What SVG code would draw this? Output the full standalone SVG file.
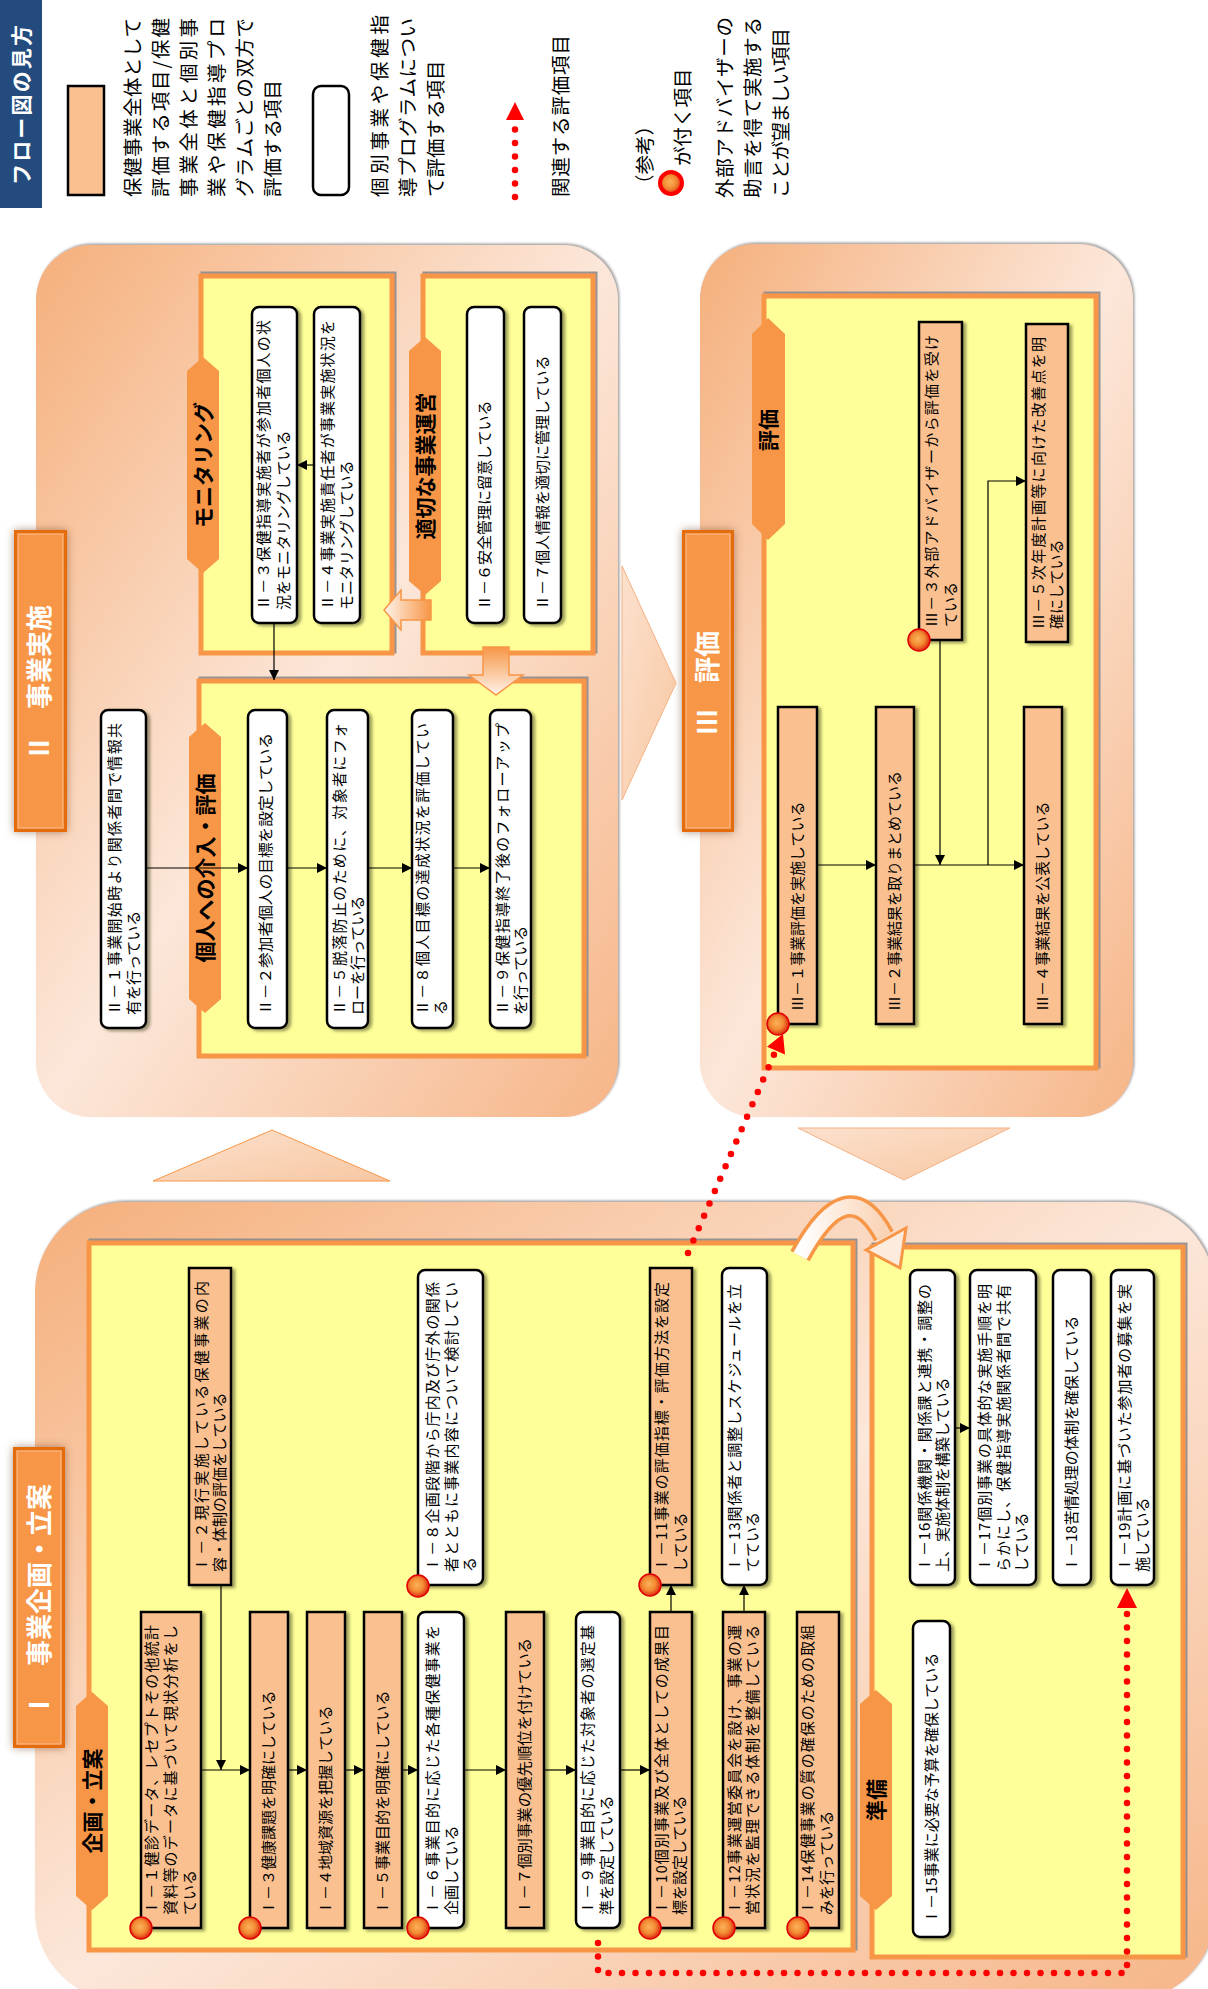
<svg xmlns="http://www.w3.org/2000/svg" width="1208" height="1989" viewBox="0 0 1208 1989">
<defs>
<style>
.nt{font-family:"Noto Sans CJK JP","Noto Sans CJK SC",sans-serif;font-size:15px;fill:#000}
.lg{font-family:"Noto Sans CJK JP","Noto Sans CJK SC",sans-serif;font-size:19.5px;fill:#000}
.tab{font-family:"Noto Sans CJK JP","Noto Sans CJK SC",sans-serif;font-size:21px;font-weight:bold;fill:#000;text-anchor:middle}
.ttl{font-family:"Noto Sans CJK JP","Noto Sans CJK SC",sans-serif;font-size:26px;font-weight:bold;fill:#fff}
.on{fill:#FAC090;stroke:#000;stroke-width:2.5;filter:url(#ns)}
.wn{fill:#fff;stroke:#000;stroke-width:2.5;filter:url(#ns)}
.sub{fill:#FFFF99;stroke:#F79646;stroke-width:5;filter:url(#ps)}
.tb{fill:#F79646}
.cn{stroke:#000;stroke-width:1.2;fill:none;marker-end:url(#ah)}
.ln{stroke:#000;stroke-width:1.2;fill:none}
.rd{stroke:#FF0000;stroke-width:6.5;stroke-linecap:round;stroke-dasharray:0 13.5;fill:none}
.dot{fill:url(#dg);stroke:#E00000;stroke-width:1.5}
</style>
<linearGradient id="pg" x1="0" y1="0" x2="1" y2="1">
<stop offset="0" stop-color="#F5AF7B"/><stop offset="0.5" stop-color="#FCE7DA"/><stop offset="1" stop-color="#F6B587"/>
</linearGradient>
<linearGradient id="bg" x1="0" y1="0" x2="1" y2="1">
<stop offset="0" stop-color="#FCE1CE"/><stop offset="1" stop-color="#F8C7A2"/>
</linearGradient>
<linearGradient id="lag" x1="0" y1="0" x2="1" y2="0">
<stop offset="0" stop-color="#FEF3EB"/><stop offset="1" stop-color="#F79646"/>
</linearGradient>
<linearGradient id="dag" x1="0" y1="0" x2="0" y2="1">
<stop offset="0" stop-color="#F79646"/><stop offset="1" stop-color="#FEF3EB"/>
</linearGradient>
<linearGradient id="cg" x1="0" y1="0" x2="1" y2="0">
<stop offset="0" stop-color="#FFFFFF"/><stop offset="1" stop-color="#FAD3B5"/>
</linearGradient>
<radialGradient id="dg" cx="0.45" cy="0.45" r="0.55">
<stop offset="0" stop-color="#FBB35A"/><stop offset="0.55" stop-color="#F28A32"/><stop offset="1" stop-color="#E02A10"/>
</radialGradient>
<marker id="ah" viewBox="0 0 10 10" refX="10" refY="5" markerWidth="10" markerHeight="10" markerUnits="userSpaceOnUse" orient="auto">
<path d="M0,0 L10,5 L0,10 z" fill="#000"/>
</marker>
<filter id="ns" x="-30%" y="-10%" width="160%" height="120%">
<feDropShadow dx="3" dy="2" stdDeviation="1.6" flood-color="#4d4d26" flood-opacity="0.55"/>
</filter>
<filter id="ps" x="-5%" y="-5%" width="110%" height="110%">
<feDropShadow dx="2" dy="-2" stdDeviation="0.6" flood-color="#8a8a8a" flood-opacity="0.9"/>
</filter>
<filter id="os" x="-5%" y="-5%" width="110%" height="110%">
<feDropShadow dx="1.5" dy="-1.5" stdDeviation="0.8" flood-color="#8a8a8a" flood-opacity="0.8"/>
</filter>
<filter id="ts" x="-40%" y="-10%" width="180%" height="120%">
<feDropShadow dx="0" dy="0" stdDeviation="4" flood-color="#7a5030" flood-opacity="0.6"/>
</filter>
</defs>

<!-- Legend -->
<g id="legend">
<rect x="0" y="0" width="42" height="208" fill="#244B7E"/>
<text class="ttl" style="font-size:21px" transform="translate(28.5,185) rotate(-90)" textLength="160" lengthAdjust="spacing">フロー図の見方</text>
<rect x="68" y="86" width="36" height="109" fill="#FAC090" stroke="#000" stroke-width="2.5"/>
<text class="lg" transform="translate(140,197) rotate(-90)">
<tspan x="0" y="0" textLength="179" lengthAdjust="spacing">保健事業全体として</tspan>
<tspan x="0" y="28" textLength="179" lengthAdjust="spacing">評価する項目/保健</tspan>
<tspan x="0" y="56" textLength="179" lengthAdjust="spacing">事業全体と個別事</tspan>
<tspan x="0" y="84" textLength="179" lengthAdjust="spacing">業や保健指導プロ</tspan>
<tspan x="0" y="112" textLength="179" lengthAdjust="spacing">グラムごとの双方で</tspan>
<tspan x="0" y="140">評価する項目</tspan>
</text>
<rect x="313" y="86" width="36" height="109" rx="8" fill="#fff" stroke="#000" stroke-width="2.5"/>
<text class="lg" transform="translate(387,197) rotate(-90)">
<tspan x="0" y="0" textLength="182" lengthAdjust="spacing">個別事業や保健指</tspan>
<tspan x="0" y="28" textLength="179" lengthAdjust="spacing">導プログラムについ</tspan>
<tspan x="0" y="56">て評価する項目</tspan>
</text>
<line class="rd" x1="515" y1="197" x2="515" y2="124"/>
<polygon points="506,120 524,120 515,102" fill="#FF0000"/>
<text class="lg" transform="translate(568,197) rotate(-90)" textLength="162" lengthAdjust="spacing">関連する評価項目</text>
<text class="lg" transform="translate(652,194) rotate(-90)">（参考）</text>
<circle cx="671" cy="183" r="11" fill="url(#dg)" stroke="#FF0000" stroke-width="4"/>
<text class="lg" transform="translate(690,166) rotate(-90)">が付く項目</text>
<text class="lg" transform="translate(732,198) rotate(-90)">
<tspan x="0" y="0" textLength="181" lengthAdjust="spacing">外部アドバイザーの</tspan>
<tspan x="0" y="28" textLength="181" lengthAdjust="spacing">助言を得て実施する</tspan>
<tspan x="0" y="56" textLength="170" lengthAdjust="spacing">ことが望ましい項目</tspan>
</text>
</g>

<!-- Section panels -->
<g id="panel-II">
<rect x="36" y="245" width="582" height="872" rx="55" fill="url(#pg)" filter="url(#os)"/>
<rect class="sub" x="201" y="276" width="191" height="377"/>
<rect class="sub" x="423" y="276" width="170" height="377"/>
<rect class="sub" x="199" y="681" width="385" height="375"/>
<polygon class="tb" points="187,371 203,357 219,371 219,559 203,573 187,559"/>
<text class="tab" transform="translate(210.6,465) rotate(-90)">モニタリング</text>
<polygon class="tb" points="409,351 425,337 441,351 441,581 425,595 409,581"/>
<text class="tab" transform="translate(432.6,466) rotate(-90)">適切な事業運営</text>
<polygon class="tb" points="189,737 205,723 221,737 221,999 205,1013 189,999"/>
<text class="tab" transform="translate(212.6,868) rotate(-90)">個人への介入・評価</text>
<g filter="url(#ts)">
<rect x="14" y="530" width="53" height="302" fill="#E46C0A"/>
<rect x="18" y="534" width="45" height="294" fill="#F79646" stroke="#FAB07A" stroke-width="1.5"/>
</g>
<text class="ttl" transform="translate(49.4,761) rotate(-90)">Ⅱ　事業実施</text>
<path d="M431,600 L401,600 L401,590 L384,610 L401,630 L401,620 L431,620 Z" fill="url(#lag)" stroke="#F79646" stroke-width="1.5"/>
<path d="M483,647 L483,675 L469,675 L496,695 L523,675 L509,675 L509,647 Z" fill="url(#dag)" stroke="#F79646" stroke-width="1.5"/>
</g>

<g id="panel-III">
<rect x="700" y="244" width="433" height="873" rx="55" fill="url(#pg)" filter="url(#os)"/>
<rect class="sub" x="764" y="296" width="332" height="772"/>
<polygon class="tb" points="752,334 768,318 785,334 785,524 768,540 752,524"/>
<text class="tab" transform="translate(775.6,430) rotate(-90)">評価</text>
<g filter="url(#ts)">
<rect x="682" y="530" width="52" height="302" fill="#E46C0A"/>
<rect x="686" y="534" width="44" height="294" fill="#F79646" stroke="#FAB07A" stroke-width="1.5"/>
</g>
<text class="ttl" transform="translate(717,735) rotate(-90)">Ⅲ　評価</text>
</g>

<g id="panel-I">
<rect x="35" y="1202" width="1180" height="800" rx="90" fill="url(#pg)" filter="url(#os)"/>
<rect class="sub" x="89" y="1243" width="764" height="707"/>
<rect class="sub" x="872" y="1247" width="311" height="710"/>
<polygon class="tb" points="76,1706 92,1692 108,1706 108,1896 92,1910 76,1896"/>
<text class="tab" transform="translate(99.6,1801) rotate(-90)">企画・立案</text>
<polygon class="tb" points="860,1704 876,1690 892,1704 892,1896 876,1910 860,1896"/>
<text class="tab" transform="translate(883.6,1800) rotate(-90)">準備</text>
<g filter="url(#ts)">
<rect x="13" y="1447" width="52" height="301" fill="#E46C0A"/>
<rect x="17" y="1451" width="44" height="293" fill="#F79646" stroke="#FAB07A" stroke-width="1.5"/>
</g>
<text class="ttl" transform="translate(48.5,1718) rotate(-90)">Ⅰ　事業企画・立案</text>
<path d="M800,1256 Q848,1168 884,1236" stroke="#F79646" stroke-width="22" fill="none"/>
<path d="M800,1256 Q848,1168 884,1236" stroke="url(#cg)" stroke-width="15" fill="none"/>
<polygon points="866,1250 906,1228 900,1268" fill="#FDEBDD" stroke="#F79646" stroke-width="3" stroke-linejoin="miter"/>
</g>

<g id="section-arrows">
<polygon points="622,566 676,683 622,800" fill="url(#bg)" stroke="#F4B183" stroke-width="1"/>
<polygon points="798,1128 1010,1128 904,1180" fill="url(#bg)" stroke="#F4B183" stroke-width="1"/>
<polygon points="153,1181 390,1181 272,1130" fill="url(#bg)" stroke="#F79646" stroke-width="1"/>
</g>

<!-- Nodes: Section II -->
<g id="n-II-3"><rect class="wn" x="252" y="307" width="45" height="316" rx="7"/>
<text class="nt" transform="translate(269.4,610) rotate(-90)"><tspan x="0" y="0" textLength="290" lengthAdjust="spacing">Ⅱ－３保健指導実施者が参加者個人の状</tspan><tspan x="0" y="20">況をモニタリングしている</tspan></text></g>
<g id="n-II-4"><rect class="wn" x="314" y="307" width="46" height="316" rx="7"/>
<text class="nt" transform="translate(333.4,610) rotate(-90)"><tspan x="0" y="0" textLength="290" lengthAdjust="spacing">Ⅱ－４事業実施責任者が事業実施状況を</tspan><tspan x="0" y="19">モニタリングしている</tspan></text></g>
<g id="n-II-6"><rect class="wn" x="467" y="307" width="37" height="316" rx="7"/>
<text class="nt" transform="translate(490.4,610) rotate(-90)">Ⅱ－６安全管理に留意している</text></g>
<g id="n-II-7"><rect class="wn" x="524" y="307" width="37" height="316" rx="7"/>
<text class="nt" transform="translate(548.4,610) rotate(-90)">Ⅱ－７個人情報を適切に管理している</text></g>
<g id="n-II-1"><rect class="wn" x="101" y="710" width="45" height="318" rx="7"/>
<text class="nt" transform="translate(120.4,1015) rotate(-90)"><tspan x="0" y="0" textLength="292" lengthAdjust="spacing">Ⅱ－１事業開始時より関係者間で情報共</tspan><tspan x="0" y="19">有を行っている</tspan></text></g>
<g id="n-II-2"><rect class="wn" x="248" y="710" width="39" height="318" rx="7"/>
<text class="nt" transform="translate(271.4,1015) rotate(-90)" textLength="282" lengthAdjust="spacingAndGlyphs">Ⅱ－２参加者個人の目標を設定している</text></g>
<g id="n-II-5"><rect class="wn" x="327" y="710" width="41" height="318" rx="7"/>
<text class="nt" transform="translate(345.4,1015) rotate(-90)"><tspan x="0" y="0" textLength="292" lengthAdjust="spacing">Ⅱ－５脱落防止のために、対象者にフォ</tspan><tspan x="0" y="18">ローを行っている</tspan></text></g>
<g id="n-II-8"><rect class="wn" x="412" y="710" width="41" height="318" rx="7"/>
<text class="nt" transform="translate(428.4,1015) rotate(-90)"><tspan x="0" y="0" textLength="292" lengthAdjust="spacing">Ⅱ－８個人目標の達成状況を評価してい</tspan><tspan x="0" y="18">る</tspan></text></g>
<g id="n-II-9"><rect class="wn" x="490" y="710" width="41" height="318" rx="7"/>
<text class="nt" transform="translate(508.4,1015) rotate(-90)"><tspan x="0" y="0" textLength="292" lengthAdjust="spacing">Ⅱ－９保健指導終了後のフォローアップ</tspan><tspan x="0" y="18">を行っている</tspan></text></g>

<!-- Nodes: Section III -->
<g id="n-III-3"><rect class="on" x="919" y="322" width="43" height="318"/>
<text class="nt" transform="translate(937.4,627) rotate(-90)"><tspan x="0" y="0" textLength="292" lengthAdjust="spacing">Ⅲ－３外部アドバイザーから評価を受け</tspan><tspan x="0" y="19">ている</tspan></text></g>
<g id="n-III-5"><rect class="on" x="1026" y="324" width="42" height="318"/>
<text class="nt" transform="translate(1044.4,629) rotate(-90)"><tspan x="0" y="0" textLength="292" lengthAdjust="spacing">Ⅲ－５次年度計画等に向けた改善点を明</tspan><tspan x="0" y="18">確にしている</tspan></text></g>
<g id="n-III-1"><rect class="on" x="778" y="707" width="39" height="317"/>
<text class="nt" transform="translate(803.4,1011) rotate(-90)">Ⅲ－１事業評価を実施している</text></g>
<g id="n-III-2"><rect class="on" x="876" y="707" width="38" height="317"/>
<text class="nt" transform="translate(900.4,1011) rotate(-90)">Ⅲ－２事業結果を取りまとめている</text></g>
<g id="n-III-4"><rect class="on" x="1024" y="707" width="38" height="317"/>
<text class="nt" transform="translate(1048.4,1011) rotate(-90)">Ⅲ－４事業結果を公表している</text></g>

<!-- Nodes: Section I -->
<g id="n-I-1"><rect class="on" x="141" y="1612" width="60" height="316"/>
<text class="nt" transform="translate(157.4,1915) rotate(-90)"><tspan x="0" y="0" textLength="290" lengthAdjust="spacing">Ⅰ－１健診データ、レセプトその他統計</tspan><tspan x="0" y="19" textLength="290" lengthAdjust="spacing">資料等のデータに基づいて現状分析をし</tspan><tspan x="0" y="38">ている</tspan></text></g>
<g id="n-I-3"><rect class="on" x="250" y="1612" width="38" height="316"/>
<text class="nt" transform="translate(274.4,1915) rotate(-90)">Ⅰ－３健康課題を明確にしている</text></g>
<g id="n-I-4"><rect class="on" x="307" y="1612" width="38" height="316"/>
<text class="nt" transform="translate(331.4,1915) rotate(-90)">Ⅰ－４地域資源を把握している</text></g>
<g id="n-I-5"><rect class="on" x="364" y="1612" width="38" height="316"/>
<text class="nt" transform="translate(388.4,1915) rotate(-90)">Ⅰ－５事業目的を明確にしている</text></g>
<g id="n-I-6"><rect class="wn" x="418" y="1612" width="46" height="316" rx="7"/>
<text class="nt" transform="translate(438.4,1915) rotate(-90)"><tspan x="0" y="0" textLength="290" lengthAdjust="spacing">Ⅰ－６事業目的に応じた各種保健事業を</tspan><tspan x="0" y="19">企画している</tspan></text></g>
<g id="n-I-7"><rect class="on" x="506" y="1612" width="38" height="316"/>
<text class="nt" transform="translate(530.4,1915) rotate(-90)" textLength="277" lengthAdjust="spacingAndGlyphs">Ⅰ－７個別事業の優先順位を付けている</text></g>
<g id="n-I-9"><rect class="wn" x="576" y="1612" width="44" height="316" rx="7"/>
<text class="nt" transform="translate(593.4,1915) rotate(-90)"><tspan x="0" y="0" textLength="290" lengthAdjust="spacing">Ⅰ－９事業目的に応じた対象者の選定基</tspan><tspan x="0" y="19">準を設定している</tspan></text></g>
<g id="n-I-10"><rect class="on" x="650" y="1612" width="42" height="316"/>
<text class="nt" transform="translate(667.4,1915) rotate(-90)"><tspan x="0" y="0" textLength="290" lengthAdjust="spacing">Ⅰ－10個別事業及び全体としての成果目</tspan><tspan x="0" y="18">標を設定している</tspan></text></g>
<g id="n-I-12"><rect class="on" x="723" y="1612" width="42" height="316"/>
<text class="nt" transform="translate(740.4,1915) rotate(-90)"><tspan x="0" y="0" textLength="290" lengthAdjust="spacing">Ⅰ－12事業運営委員会を設け、事業の運</tspan><tspan x="0" y="18" textLength="290" lengthAdjust="spacing">営状況を監理できる体制を整備している</tspan></text></g>
<g id="n-I-14"><rect class="on" x="797" y="1612" width="42" height="316"/>
<text class="nt" transform="translate(813.4,1915) rotate(-90)"><tspan x="0" y="0" textLength="290" lengthAdjust="spacing">Ⅰ－14保健事業の質の確保のための取組</tspan><tspan x="0" y="19">みを行っている</tspan></text></g>
<g id="n-I-2"><rect class="on" x="189" y="1268" width="42" height="317"/>
<text class="nt" transform="translate(207.4,1572) rotate(-90)"><tspan x="0" y="0" textLength="291" lengthAdjust="spacing">Ⅰ－２現行実施している保健事業の内</tspan><tspan x="0" y="18">容・体制の評価をしている</tspan></text></g>
<g id="n-I-8"><rect class="wn" x="418" y="1270" width="65" height="315" rx="7"/>
<text class="nt" transform="translate(438.4,1572) rotate(-90)"><tspan x="0" y="0" textLength="290" lengthAdjust="spacing">Ⅰ－８企画段階から庁内及び庁外の関係</tspan><tspan x="0" y="19" textLength="290" lengthAdjust="spacing">者とともに事業内容について検討してい</tspan><tspan x="0" y="37">る</tspan></text></g>
<g id="n-I-11"><rect class="on" x="650" y="1268" width="42" height="317"/>
<text class="nt" transform="translate(667.4,1572) rotate(-90)"><tspan x="0" y="0" textLength="290" lengthAdjust="spacing">Ⅰ－11事業の評価指標・評価方法を設定</tspan><tspan x="0" y="19">している</tspan></text></g>
<g id="n-I-13"><rect class="wn" x="722" y="1268" width="45" height="317" rx="7"/>
<text class="nt" transform="translate(740.4,1572) rotate(-90)"><tspan x="0" y="0" textLength="288" lengthAdjust="spacing">Ⅰ－13関係者と調整しスケジュールを立</tspan><tspan x="0" y="18">てている</tspan></text></g>
<g id="n-I-16"><rect class="wn" x="910" y="1270" width="45" height="315" rx="7"/>
<text class="nt" transform="translate(930.4,1572) rotate(-90)"><tspan x="0" y="0" textLength="288" lengthAdjust="spacing">Ⅰ－16関係機関・関係課と連携・調整の</tspan><tspan x="0" y="18">上、実施体制を構築している</tspan></text></g>
<g id="n-I-17"><rect class="wn" x="970" y="1270" width="66" height="315" rx="7"/>
<text class="nt" transform="translate(990.4,1572) rotate(-90)"><tspan x="0" y="0" textLength="288" lengthAdjust="spacing">Ⅰ－17個別事業の具体的な実施手順を明</tspan><tspan x="0" y="19" textLength="288" lengthAdjust="spacing">らかにし、保健指導実施関係者間で共有</tspan><tspan x="0" y="37">している</tspan></text></g>
<g id="n-I-18"><rect class="wn" x="1053" y="1270" width="38" height="315" rx="7"/>
<text class="nt" transform="translate(1077.4,1572) rotate(-90)">Ⅰ－18苦情処理の体制を確保している</text></g>
<g id="n-I-19"><rect class="wn" x="1111" y="1270" width="43" height="315" rx="7"/>
<text class="nt" transform="translate(1130.4,1572) rotate(-90)"><tspan x="0" y="0" textLength="288" lengthAdjust="spacing">Ⅰ－19計画に基づいた参加者の募集を実</tspan><tspan x="0" y="18">施している</tspan></text></g>
<g id="n-I-15"><rect class="wn" x="913" y="1621" width="37" height="316" rx="7"/>
<text class="nt" transform="translate(937.4,1924) rotate(-90)">Ⅰ－15事業に必要な予算を確保している</text></g>

<!-- Connectors -->
<g id="connectors">
<line class="cn" x1="146" y1="868" x2="248" y2="868"/>
<line class="cn" x1="287" y1="868" x2="327" y2="868"/>
<line class="cn" x1="368" y1="868" x2="412" y2="868"/>
<line class="cn" x1="453" y1="868" x2="490" y2="868"/>
<line class="cn" x1="314" y1="465" x2="297" y2="465"/>
<line class="cn" x1="274" y1="623" x2="274" y2="680"/>
<line class="cn" x1="817" y1="865" x2="876" y2="865"/>
<line class="cn" x1="914" y1="865" x2="1024" y2="865"/>
<line class="cn" x1="940" y1="640" x2="940" y2="865"/>
<polyline class="cn" points="988,865 988,481 1026,481"/>
<line class="cn" x1="201" y1="1770" x2="250" y2="1770"/>
<line class="cn" x1="288" y1="1770" x2="307" y2="1770"/>
<line class="cn" x1="345" y1="1770" x2="364" y2="1770"/>
<line class="cn" x1="402" y1="1770" x2="418" y2="1770"/>
<line class="cn" x1="464" y1="1770" x2="506" y2="1770"/>
<line class="cn" x1="544" y1="1770" x2="576" y2="1770"/>
<line class="cn" x1="620" y1="1770" x2="650" y2="1770"/>
<line class="cn" x1="221" y1="1585" x2="221" y2="1770"/>
<line class="cn" x1="671" y1="1612" x2="671" y2="1585"/>
<line class="cn" x1="744" y1="1612" x2="744" y2="1585"/>
<line class="cn" x1="955" y1="1428" x2="970" y2="1428"/>
<path class="rd" d="M688,1253 L776,1050"/>
<polygon points="783,1034 785,1054.5 767,1046.7" fill="#FF0000"/>
<path class="rd" d="M598,1943 L598,1973 L1127,1973 L1127,1612"/>
<polygon points="1117,1608 1137,1608 1127,1588" fill="#FF0000"/>
</g>

<!-- Markers (red dots) -->
<g id="marks">
<circle class="dot" cx="919" cy="640" r="11"/>
<circle class="dot" cx="778" cy="1024" r="11"/>
<circle class="dot" cx="141" cy="1928" r="11"/>
<circle class="dot" cx="250" cy="1928" r="11"/>
<circle class="dot" cx="418" cy="1928" r="11"/>
<circle class="dot" cx="650" cy="1928" r="11"/>
<circle class="dot" cx="724" cy="1928" r="11"/>
<circle class="dot" cx="798" cy="1928" r="11"/>
<circle class="dot" cx="418" cy="1586" r="11"/>
<circle class="dot" cx="650" cy="1585" r="11"/>
</g>
</svg>
